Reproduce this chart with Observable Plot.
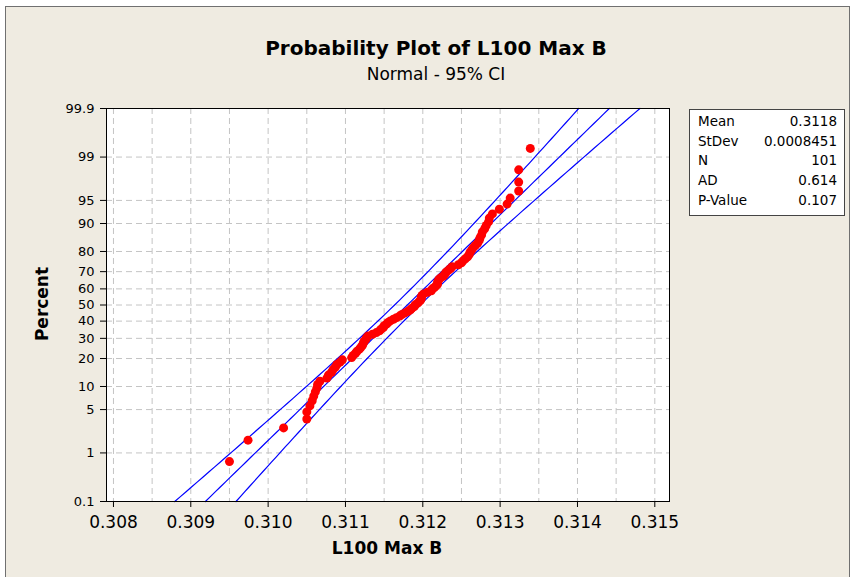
<!DOCTYPE html>
<html><head><meta charset="utf-8">
<script src="https://cdn.jsdelivr.net/npm/d3@7"></script>
<script src="https://cdn.jsdelivr.net/npm/@observablehq/plot@0.6"></script>
<style>
body{margin:0;background:#fff;width:851px;height:577px;overflow:hidden;font-family:"DejaVu Sans",sans-serif;position:relative;}
#bg{position:absolute;left:5px;top:6px;width:843px;height:600px;background:#EFEBE1;border:1px solid #707070;}
#chart{position:absolute;left:0;top:0;}
.t{position:absolute;white-space:nowrap;color:#000;transform:translate(-50%,-50%);line-height:1;}
#legend{position:absolute;left:689px;top:109px;width:156px;height:107px;box-sizing:border-box;background:#fff;border:1px solid #444;padding:2px 7px 0 8px;font-size:13.5px;}
.row{display:flex;justify-content:space-between;height:19.7px;line-height:19.7px;}
</style></head><body>
<div id="bg"></div>
<div id="chart"></div>
<div class="t" style="left:436px;top:48px;font-size:20px;font-weight:bold;">Probability Plot of L100 Max B</div>
<div class="t" style="left:436px;top:74px;font-size:17px;">Normal - 95% CI</div>
<div class="t" style="left:387px;top:548px;font-size:17px;font-weight:bold;">L100 Max B</div>
<div class="t" style="left:42px;top:304px;font-size:17px;font-weight:bold;transform:translate(-50%,-50%) rotate(-90deg);">Percent</div>
<div id="legend"></div>
<script>
// ---- data ----
const values = [
0.30950, 0.30974, 0.31020, 0.31050, 0.31050, 0.31054, 0.31057, 0.31059, 0.31061, 0.31063,
0.31064, 0.31067, 0.31076, 0.31078, 0.31082, 0.31084, 0.31087, 0.31089, 0.31093, 0.31096,
0.31108, 0.31110, 0.31113, 0.31115, 0.31118, 0.31120, 0.31122, 0.31123, 0.31124, 0.31126,
0.31127, 0.31129, 0.31135, 0.31140, 0.31144, 0.31146, 0.31149, 0.31150, 0.31153, 0.31155,
0.31158, 0.31162, 0.31166, 0.31170, 0.31173, 0.31177, 0.31181, 0.31184, 0.31186, 0.31189,
0.31190, 0.31193, 0.31195, 0.31197, 0.31198, 0.31198, 0.31199, 0.31201, 0.31206, 0.31211,
0.31212, 0.31215, 0.31217, 0.31219, 0.31219, 0.31220, 0.31221, 0.31224, 0.31227, 0.31229,
0.31230, 0.31233, 0.31236, 0.31238, 0.31246, 0.31250, 0.31252, 0.31255, 0.31258, 0.31260,
0.31261, 0.31263, 0.31265, 0.31268, 0.31271, 0.31273, 0.31274, 0.31276, 0.31277, 0.31280,
0.31282, 0.31285, 0.31286, 0.31290, 0.31299, 0.31309, 0.31313, 0.31324, 0.31324, 0.31324,
0.31339];
const statLabels = ["Mean", "StDev", "N", "AD", "P-Value"];
const statValues = ["0.3118", "0.0008451", "101", "0.614", "0.107"];
const mean = 0.3118, sd = 0.0008451, n = 101;
const xTicks = [0.308, 0.309, 0.310, 0.311, 0.312, 0.313, 0.314, 0.315];
const xGrid = [0.308, 0.3085, 0.309, 0.3095, 0.310, 0.3105, 0.311, 0.3115, 0.312, 0.3125, 0.313, 0.3135, 0.314, 0.3145, 0.315];
const pctTicks = [0.1, 1, 5, 10, 20, 30, 40, 50, 60, 70, 80, 90, 95, 99, 99.9];
const pctLabels = ["0.1", "1", "5", "10", "20", "30", "40", "50", "60", "70", "80", "90", "95", "99", "99.9"];

// inverse standard normal CDF (Acklam)
function probit(p){
  const a=[-3.969683028665376e+01,2.209460984245205e+02,-2.759285104469687e+02,1.383577518672690e+02,-3.066479806614716e+01,2.506628277459239e+00];
  const b=[-5.447609879822406e+01,1.615858368580409e+02,-1.556989798598866e+02,6.680131188771972e+01,-1.328068155288572e+01];
  const c=[-7.784894002430293e-03,-3.223964580411365e-01,-2.400758277161838e+00,-2.549732539343734e+00,4.374664141464968e+00,2.938163982698783e+00];
  const d=[7.784695709041462e-03,3.224671290700398e-01,2.445134137142996e+00,3.754408661907416e+00];
  const pl=0.02425, ph=1-pl; let q,r;
  if(p<pl){q=Math.sqrt(-2*Math.log(p));return (((((c[0]*q+c[1])*q+c[2])*q+c[3])*q+c[4])*q+c[5])/((((d[0]*q+d[1])*q+d[2])*q+d[3])*q+1);}
  if(p>ph){q=Math.sqrt(-2*Math.log(1-p));return -(((((c[0]*q+c[1])*q+c[2])*q+c[3])*q+c[4])*q+c[5])/((((d[0]*q+d[1])*q+d[2])*q+d[3])*q+1);}
  q=p-0.5;r=q*q;return (((((a[0]*r+a[1])*r+a[2])*r+a[3])*r+a[4])*r+a[5])*q/(((((b[0]*r+b[1])*r+b[2])*r+b[3])*r+b[4])*r+1);
}

const zMin = probit(0.001), zMax = probit(0.999);
const zTicks = pctTicks.map(p => probit(p / 100));
const pts = values.map((v, i) => ({x: v, z: probit((i + 1 - 0.3) / (n + 0.4))}));
const curve = d3.range(0, 81).map(k => {
  const z = zMin + (zMax - zMin) * k / 80;
  const fit = mean + z * sd;
  const half = 1.959964 * sd * Math.sqrt(1 / n + z * z / (2 * n));
  return {z, fit, lo: fit - half, hi: fit + half};
});

const chart = Plot.plot({
  width: 851, height: 577,
  marginLeft: 106, marginRight: 182, marginTop: 108, marginBottom: 76,
  style: {background: "transparent", color: "#000", fontFamily: "DejaVu Sans, sans-serif", fontSize: "13px"},
  x: {domain: [0.30791, 0.31519], label: null},
  y: {domain: [zMin, zMax], label: null},
  marks: [
    Plot.frame({fill: "white", stroke: "none"}),
    Plot.ruleX(xGrid, {stroke: "#c4c4c4", strokeDasharray: "6,4"}),
    Plot.ruleY(zTicks, {stroke: "#c4c4c4", strokeDasharray: "6,4"}),
    Plot.line(curve, {x: "lo", y: "z", stroke: "#0000ff", strokeWidth: 1.2}),
    Plot.line(curve, {x: "fit", y: "z", stroke: "#0000ff", strokeWidth: 1.2}),
    Plot.line(curve, {x: "hi", y: "z", stroke: "#0000ff", strokeWidth: 1.2}),
    Plot.dot(pts, {x: "x", y: "z", r: 4.5, fill: "#ff0000", stroke: "none"}),
    Plot.axisX(xTicks, {tickSize: 6, tickPadding: 8, fontSize: 17, tickFormat: d3.format(".3f"), label: null}),
    Plot.axisY(zTicks, {tickSize: 6, tickPadding: 6, fontSize: 13, label: null,
      tickFormat: z => { let best = 0; zTicks.forEach((t, i) => { if (Math.abs(t - z) < Math.abs(zTicks[best] - z)) best = i; }); return pctLabels[best]; }}),
    Plot.frame({stroke: "#000", strokeWidth: 1})
  ]
});
document.getElementById("chart").appendChild(chart);

const leg = document.getElementById("legend");
statLabels.forEach((l, i) => {
  const row = document.createElement("div");
  row.className = "row";
  row.innerHTML = `<span>${l}</span><span>${statValues[i]}</span>`;
  leg.appendChild(row);
});
</script>
</body></html>
